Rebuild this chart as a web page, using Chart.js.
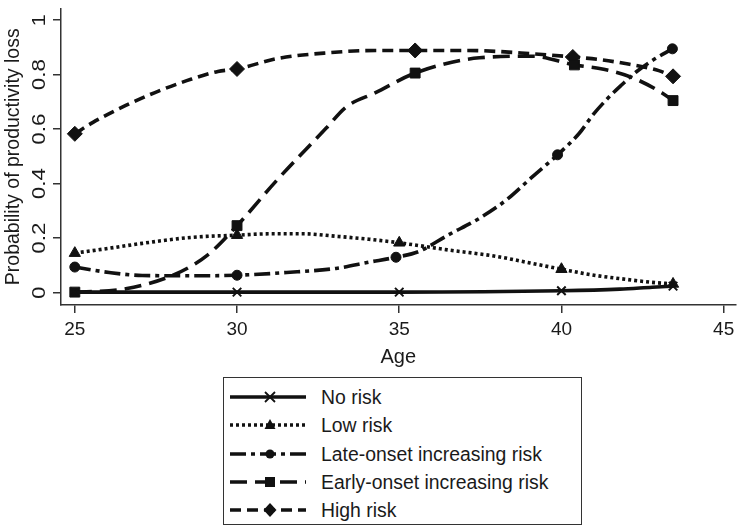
<!DOCTYPE html>
<html>
<head>
<meta charset="utf-8">
<script src="https://cdn.jsdelivr.net/npm/chart.js@4.4.1/dist/chart.umd.min.js"></script>
<style>
  html, body { margin: 0; padding: 0; background: #fff; }
  #wrap { position: relative; width: 744px; height: 526px; font-family: "Liberation Sans", Arial, sans-serif; color: #1a1a1a; }
  #plot { position: absolute; left: 0; top: 0; }
  #legend { position: absolute; left: 223px; top: 377px; width: 359px; height: 148px; border: 1.5px solid #333; box-sizing: border-box; }
  .row { position: absolute; left: 0; height: 28px; width: 100%; }
  .row svg { position: absolute; left: 6px; top: 4px; }
  .row span { position: absolute; left: 97px; top: 2px; font-size: 19.4px; line-height: 24px; white-space: nowrap; }
</style>
</head>
<body>
<div id="wrap">
  <canvas id="plot" width="744" height="372"></canvas>
  <div id="legend"></div>
</div>
<script>
// axis ticks
const xTicks = [25, 30, 35, 40, 45];
const xTickLabels = ['25', '30', '35', '40', '45'];
const yTicks = [0, 0.2, 0.4, 0.6, 0.8, 1];
const yTickLabels = ['0', '0.2', '0.4', '0.6', '0.8', '1'];

const seriesNames = ['No risk', 'Low risk', 'Late-onset increasing risk', 'Early-onset increasing risk', 'High risk'];

// fitted curves; *Marks = indexes that carry a marker
const noRiskAge = [25, 30, 35, 40, 41.8, 42.8, 43.44];
const noRiskProb = [0.002, 0.002, 0.002, 0.007, 0.013, 0.02, 0.024];
const noRiskMarks = [0, 1, 2, 3, 6];

const lowRiskAge = [25, 26.06, 27.08, 28.6, 30, 31.03, 32.04, 33.05, 34.07, 35, 36.5, 38, 39.03, 40, 41.06, 41.77, 42.78, 43.44];
const lowRiskProb = [0.145, 0.163, 0.181, 0.203, 0.211, 0.216, 0.216, 0.207, 0.196, 0.183, 0.157, 0.133, 0.109, 0.086, 0.063, 0.052, 0.038, 0.032];
const lowRiskMarks = [0, 4, 9, 13, 17];

const lateAge = [25, 26.06, 27.08, 28.6, 30, 31.53, 33.05, 34.07, 34.9, 35.6, 36.5, 37.5, 38.3, 39.1, 39.88, 40.55, 40.96, 41.4, 41.87, 42.3, 42.8, 43.42];
const lateProb = [0.094, 0.074, 0.063, 0.062, 0.064, 0.074, 0.089, 0.112, 0.13, 0.151, 0.211, 0.275, 0.34, 0.425, 0.506, 0.585, 0.651, 0.71, 0.764, 0.81, 0.852, 0.895];
const lateMarks = [0, 4, 8, 14, 21];

const earlyAge = [25, 26.57, 28.1, 29.1, 30, 31.23, 32.75, 33.36, 34.27, 35.49, 37.47, 39.1, 40.4, 41.3, 42.17, 43.09, 43.44];
const earlyProb = [0.002, 0.014, 0.068, 0.139, 0.246, 0.413, 0.604, 0.681, 0.734, 0.806, 0.862, 0.868, 0.836, 0.82, 0.79, 0.734, 0.705];
const earlyMarks = [0, 4, 9, 12, 16];

const highAge = [25, 25.56, 26.57, 27.58, 28.6, 29.41, 30, 31.23, 32.75, 34.27, 35.49, 37.07, 39.1, 40.35, 41.2, 42.1, 43.0, 43.44];
const highProb = [0.583, 0.625, 0.687, 0.74, 0.784, 0.812, 0.821, 0.859, 0.88, 0.889, 0.889, 0.889, 0.877, 0.865, 0.855, 0.838, 0.815, 0.794];
const highMarks = [0, 6, 10, 13, 17];

const ink = '#111';
const textColor = '#1a1a1a';
const fontFamily = '"Liberation Sans", Arial, sans-serif';

const series = [
    { age: noRiskAge, prob: noRiskProb, marks: noRiskMarks, dash: [], point: 'crossRot', r: 6 },
    { age: lowRiskAge, prob: lowRiskProb, marks: lowRiskMarks, dash: [3, 3], point: 'triangle', r: 6.5 },
    { age: lateAge, prob: lateProb, marks: lateMarks, dash: [16, 5, 4, 5], point: 'circle', r: 5 },
    { age: earlyAge, prob: earlyProb, marks: earlyMarks, dash: [17, 8], point: 'rect', r: 7 },
    { age: highAge, prob: highProb, marks: highMarks, dash: [11, 6], point: 'rectRot', r: 7.5 }
];

const datasets = series.map((s, i) => ({
    label: seriesNames[i],
    data: s.age.map((a, j) => ({ x: a, y: s.prob[j] })),
    borderColor: ink,
    backgroundColor: ink,
    borderWidth: 3.6,
    borderDash: s.dash,
    cubicInterpolationMode: 'monotone',
    pointStyle: s.point,
    pointRadius: ctx => s.marks.includes(ctx.dataIndex) ? s.r : 0,
    pointBorderWidth: s.point === 'crossRot' ? 2 : 1,
    pointBorderColor: ink,
    pointBackgroundColor: ink
}));

// y tick labels run along the axis, as in the original
const yTickLabelPlugin = {
    id: 'yTickLabels',
    afterDraw(chart) {
        const { ctx } = chart;
        const y = chart.scales.y;
        ctx.save();
        ctx.font = '19px ' + fontFamily;
        ctx.fillStyle = textColor;
        ctx.textAlign = 'center';
        ctx.textBaseline = 'middle';
        yTicks.forEach((v, i) => {
            ctx.save();
            ctx.translate(39.5, y.getPixelForValue(v));
            ctx.rotate(-Math.PI / 2);
            ctx.scale(1.18, 1);
            ctx.fillText(yTickLabels[i], 0, 0);
            ctx.restore();
        });
        ctx.restore();
    }
};

new Chart(document.getElementById('plot'), {
    type: 'line',
    data: { datasets: datasets },
    plugins: [yTickLabelPlugin],
    options: {
        responsive: false,
        animation: false,
        layout: { padding: 0 },
        plugins: { legend: { display: false }, tooltip: { enabled: false } },
        scales: {
            x: {
                type: 'linear',
                min: 24.574,
                max: 45.365,
                afterBuildTicks: scale => { scale.ticks = xTicks.map(v => ({ value: v })); },
                afterFit: scale => { scale.height = 67; },
                ticks: {
                    padding: 5,
                    color: textColor,
                    font: { family: fontFamily, size: 19 },
                    maxRotation: 0,
                    callback: v => xTickLabels[xTicks.indexOf(v)]
                },
                grid: { drawOnChartArea: false, drawTicks: true, tickLength: 8, color: '#333', lineWidth: 1.5 },
                border: { display: true, color: '#333', width: 1.5 },
                title: { display: true, text: 'Age', color: textColor, font: { family: fontFamily, size: 20 }, padding: { top: 2, bottom: 3 } }
            },
            y: {
                min: -0.0453,
                max: 1.043,
                afterBuildTicks: scale => { scale.ticks = yTicks.map(v => ({ value: v })); },
                afterFit: scale => { scale.width = 61; },
                ticks: { display: false },
                grid: { drawOnChartArea: false, drawTicks: true, tickLength: 8, color: '#333', lineWidth: 1.5 },
                border: { display: true, color: '#333', width: 1.5 },
                title: { display: true, text: 'Probability of productivity loss', color: textColor, font: { family: fontFamily, size: 19.5 }, padding: { top: 2, bottom: 0 } }
            }
        }
    }
});

// legend: line sample with marker in the middle, then the label
function sampleSvg(s) {
    const w = 78, h = 20, cx = 40, cy = 10, c = ink;
    let mark = '';
    if (s.point === 'crossRot') {
        const d = 5;
        mark = `<path d="M${cx - d} ${cy - d}L${cx + d} ${cy + d}M${cx - d} ${cy + d}L${cx + d} ${cy - d}" stroke="${c}" stroke-width="1.8"/>`;
    } else if (s.point === 'triangle') {
        mark = `<polygon points="${cx},${cy - 6} ${cx + 5.5},${cy + 4} ${cx - 5.5},${cy + 4}" fill="${c}"/>`;
    } else if (s.point === 'circle') {
        mark = `<circle cx="${cx}" cy="${cy}" r="4.5" fill="${c}"/>`;
    } else if (s.point === 'rect') {
        mark = `<rect x="${cx - 5}" y="${cy - 5}" width="10" height="10" fill="${c}"/>`;
    } else {
        mark = `<polygon points="${cx},${cy - 7} ${cx + 6.5},${cy} ${cx},${cy + 7} ${cx - 6.5},${cy}" fill="${c}"/>`;
    }
    const dash = s.dash.length ? `stroke-dasharray="${s.dash.join(' ')}"` : '';
    return `<svg width="${w}" height="${h}"><line x1="0" y1="${cy}" x2="${w - 2}" y2="${cy}" stroke="${c}" stroke-width="3.5" ${dash}/>${mark}</svg>`;
}

const legend = document.getElementById('legend');
series.forEach((s, i) => {
    const row = document.createElement('div');
    row.className = 'row';
    row.style.top = (5 + i * 28.3) + 'px';
    row.innerHTML = sampleSvg(s) + `<span>${seriesNames[i]}</span>`;
    legend.appendChild(row);
});
</script>
</body>
</html>
